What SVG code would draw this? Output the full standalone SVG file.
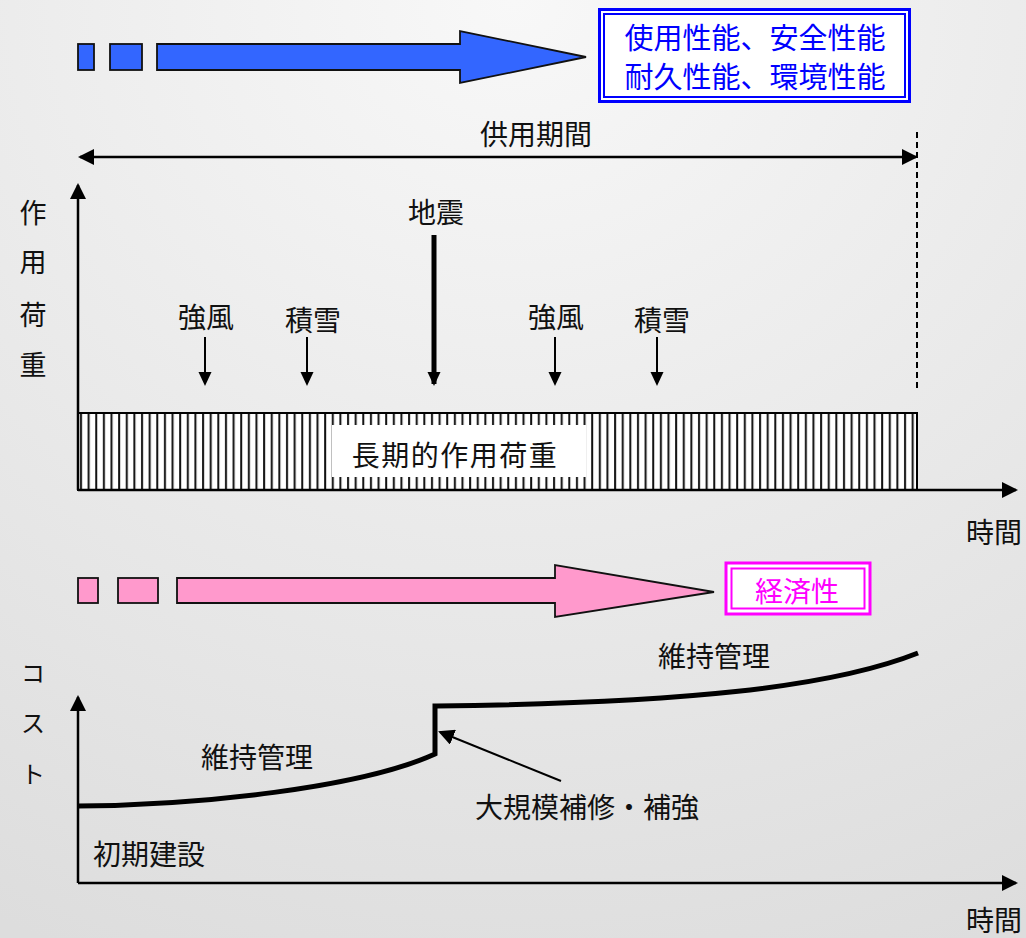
<svg xmlns="http://www.w3.org/2000/svg" width="1026" height="938" viewBox="0 0 1026 938">
<defs>
<radialGradient id="bg" cx="0.5" cy="0" r="1.1" gradientUnits="objectBoundingBox">
<stop offset="0" stop-color="#f8f8f8"/>
<stop offset="1" stop-color="#dddddd"/>
</radialGradient>
<pattern id="hatch" patternUnits="userSpaceOnUse" x="78" y="0" width="7.63" height="10">
<rect x="0" y="0" width="7.63" height="10" fill="#ffffff"/>
<rect x="2" y="0" width="2" height="10" fill="#111111"/>
</pattern>
<marker id="ah" viewBox="0 0 16 16" markerUnits="userSpaceOnUse" markerWidth="16" markerHeight="16" refX="14" refY="8" orient="auto-start-reverse">
<path d="M0,0 L16,8 L0,16 z" fill="#000"/>
</marker>
<marker id="ahs" viewBox="0 0 14 14" markerUnits="userSpaceOnUse" markerWidth="14" markerHeight="14" refX="12" refY="7" orient="auto">
<path d="M0,0.5 L14,7 L0,13.5 z" fill="#000"/>
</marker>
</defs>
<style>
.t{font-family:"Noto Sans CJK JP","Noto Sans CJK SC",sans-serif;font-size:27px;fill:#111;text-anchor:middle}
.ax{stroke:#000;stroke-width:2.5;fill:none}
.ld{stroke:#000;stroke-width:2;fill:none}
.blk{stroke:#111;stroke-width:1.8}
</style>
<rect x="0" y="0" width="1026" height="938" fill="url(#bg)"/>

<g id="blue-arrow">
<rect class="blk" x="78" y="44" width="16" height="26" fill="#3366ff"/>
<rect class="blk" x="110" y="44" width="32" height="26" fill="#3366ff"/>
<path class="blk" d="M157,44 L460,44 L460,31 L586,57 L460,83 L460,70 L157,70 z" fill="#3366ff"/>
</g>

<g id="performance-box">
<rect x="599.5" y="9.5" width="310" height="92" fill="#ffffff" stroke="#0000ff" stroke-width="3"/>
<rect x="604" y="14" width="301" height="83" fill="none" stroke="#0000ff" stroke-width="2"/>
<text class="t" x="755" y="49" style="fill:#0000ff;font-size:29px">使用性能、安全性能</text>
<text class="t" x="755" y="88" style="fill:#0000ff;font-size:29px">耐久性能、環境性能</text>
</g>

<g id="service-period">
<text class="t" x="536" y="145" style="font-size:28px">供用期間</text>
</g>

<g id="long-term-load">
<rect x="78" y="413" width="839" height="77" fill="url(#hatch)" stroke="#000" stroke-width="2"/>
<rect x="332" y="425" width="254" height="52" fill="#ffffff"/>
<text class="t" x="455" y="466" style="font-size:28px;letter-spacing:1.5px">長期的作用荷重</text>
</g>

<g id="label-load-axis">
<text class="t" x="33" y="223">作</text>
<text class="t" x="33" y="272">用</text>
<text class="t" x="33" y="325">荷</text>
<text class="t" x="33" y="375">重</text>
</g>
<g id="label-time-1"><text class="t" x="994" y="543" style="font-size:28px">時間</text></g>
<g id="label-wind-1"><text class="t" x="206" y="328" style="font-size:28px">強風</text></g>
<g id="label-snow-1"><text class="t" x="313" y="331" style="font-size:28px">積雪</text></g>
<g id="label-quake"><text class="t" x="436" y="223" style="font-size:28px">地震</text></g>
<g id="label-wind-2"><text class="t" x="556" y="328" style="font-size:28px">強風</text></g>
<g id="label-snow-2"><text class="t" x="662" y="331" style="font-size:28px">積雪</text></g>

<g id="pink-arrow">
<rect class="blk" x="78" y="578" width="20" height="25" fill="#ff99cc"/>
<rect class="blk" x="118" y="578" width="40" height="25" fill="#ff99cc"/>
<path class="blk" d="M177,578 L555,578 L555,565 L714,592 L555,617 L555,603 L177,603 z" fill="#ff99cc"/>
</g>

<g id="economy-box">
<rect x="726" y="563" width="144" height="51" fill="#ffffff" stroke="#ff00ff" stroke-width="3"/>
<rect x="731.5" y="568.5" width="133" height="40" fill="none" stroke="#ff00ff" stroke-width="2"/>
<text class="t" x="797" y="602" style="fill:#ff00ff;font-size:28px">経済性</text>
</g>

<g id="label-cost-axis">
<text class="t" x="33" y="682" style="font-size:24px">コ</text>
<text class="t" x="33" y="732" style="font-size:24px">ス</text>
<text class="t" x="33" y="783" style="font-size:24px">ト</text>
</g>
<g id="label-maint-2"><text class="t" x="714" y="667" style="font-size:28px">維持管理</text></g>
<g id="label-maint-1"><text class="t" x="257" y="768" style="font-size:28px">維持管理</text></g>
<g id="label-repair"><text class="t" x="587" y="818" style="font-size:28px">大規模補修・補強</text></g>
<g id="label-initial"><text class="t" x="149" y="865" style="font-size:28px">初期建設</text></g>
<g id="label-time-2"><text class="t" x="994" y="931" style="font-size:28px">時間</text></g>

<g id="cost-curve">
<path d="M78,806 C200,805 360,788 435,754 L435,706 L437,706 C680,703 830,688 918,653" fill="none" stroke="#000" stroke-width="5" stroke-linejoin="miter"/>
</g>

<g id="connectors">
<line class="ax" x1="80" y1="157" x2="916" y2="157" marker-start="url(#ah)" marker-end="url(#ah)"/>
<line x1="917" y1="132" x2="917" y2="390" stroke="#000" stroke-width="2" stroke-dasharray="6 4"/>
<line class="ax" x1="78" y1="490" x2="78" y2="185" marker-end="url(#ah)"/>
<line class="ax" x1="78" y1="490" x2="1016" y2="490" marker-end="url(#ah)"/>
<line class="ld" x1="205" y1="337" x2="205" y2="384" marker-end="url(#ahs)"/>
<line class="ld" x1="307" y1="337" x2="307" y2="384" marker-end="url(#ahs)"/>
<line x1="434" y1="235" x2="434" y2="384" stroke="#000" stroke-width="5" marker-end="url(#ahs)"/>
<line class="ld" x1="555" y1="337" x2="555" y2="384" marker-end="url(#ahs)"/>
<line class="ld" x1="657" y1="337" x2="657" y2="384" marker-end="url(#ahs)"/>
<line class="ax" x1="78" y1="883" x2="78" y2="697" marker-end="url(#ah)"/>
<line class="ax" x1="78" y1="883" x2="1016" y2="883" marker-end="url(#ah)"/>
<line class="ld" x1="561" y1="781" x2="440" y2="732" marker-end="url(#ah)"/>
</g>
</svg>
